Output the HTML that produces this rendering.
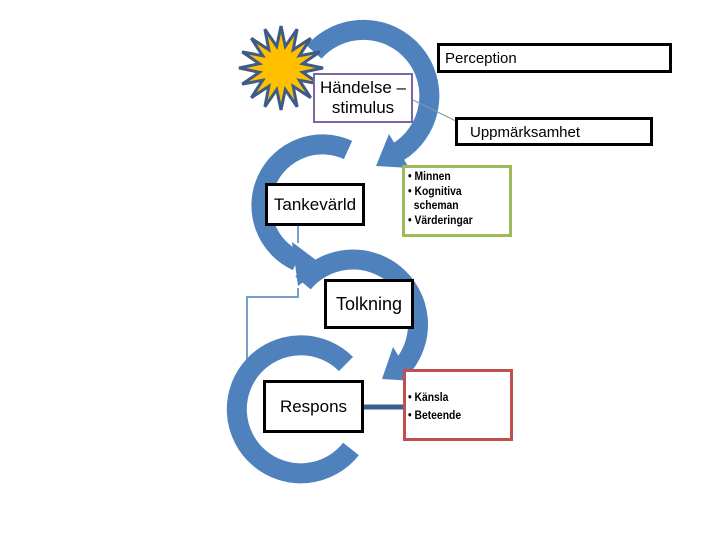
<!DOCTYPE html>
<html><head><meta charset="utf-8"><style>
body{margin:0;background:#fff;}
.b{position:absolute;box-sizing:border-box;background:#fff;font-family:"Liberation Sans","DejaVu Sans",sans-serif;color:#000;}
.c{display:flex;align-items:center;justify-content:center;text-align:center;}
ul{margin:0;padding:0;list-style:none;}
li{font-family:"Liberation Sans Narrow","Liberation Sans",sans-serif;font-weight:bold;font-size:11.5px;line-height:16px;transform:scaleX(.9);transform-origin:left;white-space:nowrap;}
</style></head><body>
<div style="position:relative;width:720px;height:540px;overflow:hidden">
<svg width="720" height="540" style="position:absolute;left:0;top:0">
<g fill="none" stroke="#4f81bd" stroke-width="20">
<path d="M314 52 A66 66 0 1 1 398 152"/>
<path d="M348 150 A58 58 0 1 0 297 261"/>
<path d="M303 283 A62 62 0 1 1 403 366"/>
<path d="M346 364 A64 64 0 1 0 351 449"/>
</g>
<g fill="#4f81bd">
<polygon points="389,134 409,168 376,166"/>
<polygon points="292,242 298,286 324,266"/>
<polygon points="393,347 414,381 382,379"/>
</g>
<polyline points="298,225 298,243" fill="none" stroke="#4f81bd" stroke-width="1.5"/>
<polyline points="298,288 298,297 247,297 247,385" fill="none" stroke="#4f81bd" stroke-width="1.5"/>
<polygon points="244,383 250,383 247,390" fill="#4f81bd"/>
<line x1="413" y1="100" x2="460" y2="123" stroke="#7f98b0" stroke-width="1"/>
<line x1="364" y1="407" x2="404" y2="407" stroke="#365f91" stroke-width="5"/>
<polygon id="star" fill="#ffc000" stroke="#3e5b87" stroke-width="3" points=""/>
</svg>
<div class="b" style="left:437px;top:43px;width:235px;height:30px;border:3px solid #000;font-size:15px;padding:4px 0 0 5px">Perception</div>
<div class="b c" style="left:313px;top:73px;width:100px;height:50px;border:2px solid #8064a2;font-size:17px;line-height:20px">Händelse –<br>stimulus</div>
<div class="b" style="left:455px;top:117px;width:198px;height:29px;border:3px solid #000;font-size:15px;padding:4px 0 0 12px">Uppmärksamhet</div>
<div class="b c" style="left:265px;top:183px;width:100px;height:43px;border:3px solid #000;font-size:17px">Tankevärld</div>
<div class="b" style="left:402px;top:165px;width:110px;height:72px;border:3px solid #9bbb59;padding:1px 0 0 3px">
<ul><li>• Minnen</li><li style="line-height:14px">• Kognitiva<br>&nbsp;&nbsp;scheman</li><li>• Värderingar</li></ul></div>
<div class="b c" style="left:324px;top:279px;width:90px;height:50px;border:3px solid #000;font-size:18px">Tolkning</div>
<div class="b c" style="left:263px;top:380px;width:101px;height:53px;border:3px solid #000;font-size:17px">Respons</div>
<div class="b" style="left:403px;top:369px;width:110px;height:72px;border:3px solid #c0504d;padding:17px 0 0 2px">
<ul><li style="line-height:18px">• Känsla</li><li style="line-height:18px">• Beteende</li></ul></div>
</div>
<script>
var p=[],cx=281,cy=68;for(var i=0;i<32;i++){var a=i*Math.PI/16-Math.PI/2,r=i%2?22:42;p.push((cx+r*Math.cos(a)).toFixed(1)+","+(cy+r*Math.sin(a)).toFixed(1));}
document.getElementById("star").setAttribute("points",p.join(" "));
</script>
</body></html>
